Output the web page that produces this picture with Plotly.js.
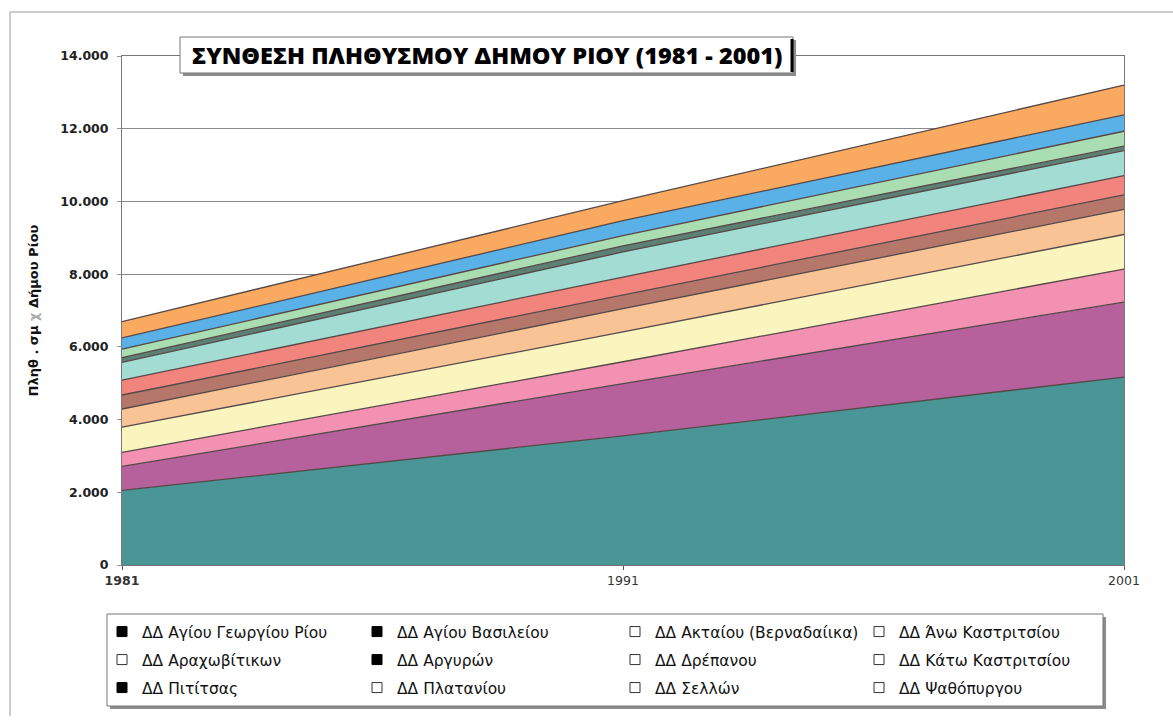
<!DOCTYPE html>
<html><head><meta charset="utf-8">
<script src="https://cdn.plot.ly/plotly-3.0.1.min.js"></script>
<style>html,body{margin:0;padding:0;background:#fff}#chart{width:1173px;height:723px}</style>
</head><body><div id="chart"></div>
<script>
// ---- data ----
const years = [1981, 1991, 2001];
const seriesNames = [
  "ΔΔ Αγίου Γεωργίου Ρίου", "ΔΔ Αγίου Βασιλείου", "ΔΔ Ακταίου (Βερναδαίικα)", "ΔΔ Άνω Καστριτσίου",
  "ΔΔ Αραχωβίτικων", "ΔΔ Αργυρών", "ΔΔ Δρέπανου", "ΔΔ Κάτω Καστριτσίου",
  "ΔΔ Πιτίτσας", "ΔΔ Πλατανίου", "ΔΔ Σελλών", "ΔΔ Ψαθόπυργου"
];
const agiouGeorgiouRiou   = [2050, 3550, 5170];
const agiouVasileiou      = [660, 1440, 2060];
const aktaiou             = [390, 600, 910];
const anoKastritsiou      = [690, 820, 950];
const arachovitikon       = [500, 640, 690];
const argyron             = [385, 370, 400];
const drepanou            = [410, 500, 530];
const katoKastritsiou     = [490, 690, 690];
const pititsas            = [130, 170, 120];
const plataniou           = [230, 280, 410];
const sellon              = [310, 410, 450];
const psathopyrgou        = [450, 550, 820];
const seriesValues = [agiouGeorgiouRiou, agiouVasileiou, aktaiou, anoKastritsiou, arachovitikon, argyron,
  drepanou, katoKastritsiou, pititsas, plataniou, sellon, psathopyrgou];
const yTicks = [0, 2000, 4000, 6000, 8000, 10000, 12000, 14000];
const titleText = "ΣΥΝΘΕΣΗ ΠΛΗΘΥΣΜΟΥ ΔΗΜΟΥ ΡΙΟΥ (1981 - 2001)";
const yTitleText = "Πληθ . σμ <span style='color:#aaa'>χ</span> Δήμου Ρίου";

// ---- style ----
const fillColors = ["#4A9595", "#B6619C", "#F291B1", "#FAF5BE", "#F8C496", "#B57769",
  "#F2847E", "#A2DCD3", "#5E7F73", "#ABDDB2", "#5AB1E8", "#FAAA60"];
const W = 1173, H = 723, L = 122, R = 49, T = 56, B = 158;
const PW = W - L - R, PH = H - T - B;
const px = x => (x - L) / PW;
const py = y => (H - B - y) / PH;
function lum(hex){const n=parseInt(hex.slice(1),16);return 0.299*(n>>16)+0.587*((n>>8)&255)+0.114*(n&255);}

const colTextX = [143, 398, 656, 900];
const rowY = [632, 660, 688];
const legFont = {family: "DejaVu Sans", size: 15.5, color: "#111"};

const traces = [];
seriesValues.forEach((vals, i) => {
  traces.push({
    type: "scatter", x: years, y: vals, name: seriesNames[i],
    stackgroup: "one", mode: "lines",
    line: {color: "#554848", width: 1.3},
    fillcolor: fillColors[i], showlegend: false, hoverinfo: "x+y+name"
  });
});
const legends = {};
seriesNames.forEach((nm, i) => {
  const dark = lum(fillColors[i]) < 150;
  const id = i === 0 ? "legend" : "legend" + (i + 1);
  traces.push({
    type: "scatter", x: [null], y: [null], name: nm, mode: "markers",
    marker: {symbol: dark ? "square" : "square-open", color: dark ? "#000" : "#333", size: 10,
             line: {width: 1, color: dark ? "#000" : "#333"}},
    legend: id, showlegend: true
  });
  legends[id] = {orientation: "h", x: px(colTextX[i % 4] - 41), xanchor: "left",
    y: py(rowY[Math.floor(i / 4)]), yanchor: "middle",
    bgcolor: "rgba(0,0,0,0)", borderwidth: 0, font: legFont};
});

const rect = (x0,y0,x1,y1,extra) => Object.assign({type:"rect", xref:"paper", yref:"paper",
  x0:px(x0), x1:px(x1), y0:py(y1), y1:py(y0), layer:"above"}, extra);
const line = (x0,y0,x1,y1,extra) => Object.assign({type:"line", xref:"paper", yref:"paper",
  x0:px(x0), x1:px(x1), y0:py(y0), y1:py(y1), layer:"above"}, extra);

const layout = Object.assign({
  width: W, height: H, margin: {l: L, r: R, t: T, b: B},
  paper_bgcolor: "#fff", plot_bgcolor: "#fff",
  separators: ",.",
  showlegend: true,
  xaxis: {
    type: "linear", range: [1981, 2001], tickvals: years,
    ticktext: ["<b>1981</b>", "1991", "2001"],
    tickfont: {family: "DejaVu Sans", size: 12.5, color: "#333"},
    showgrid: false, zeroline: false, showline: true, mirror: true, linecolor: "#777", linewidth: 1,
    ticks: "outside", ticklen: 4, tickcolor: "#555"
  },
  yaxis: {
    range: [0, 14000], tickvals: yTicks, tickformat: ",d",
    tickfont: {family: "DejaVu Sans", size: 12.5, color: "#222", weight: 700},
    showgrid: true, gridcolor: "#8a8a8a", gridwidth: 1, zeroline: false,
    showline: true, mirror: true, linecolor: "#777", linewidth: 1,
    ticks: "outside", ticklen: 4, tickcolor: "#999", ticklabelstandoff: 6,
    title: {text: "<b>" + yTitleText + "</b>", font: {family: "DejaVu Sans", size: 13, color: "#111"}, standoff: 18}
  },
  shapes: [
    line(10, 12, 10, 716, {line: {color: "#9a9a9a", width: 1}}),
    line(10, 12, 1180, 12, {line: {color: "#9a9a9a", width: 1}}),
    rect(183, 40, 796, 76, {fillcolor: "#8c8c8c", line: {width: 0}}),
    rect(180, 37, 793, 73, {fillcolor: "#ffffff", line: {color: "#777", width: 1}}),
    line(792, 39, 792, 72, {line: {color: "#000", width: 3}}),
    rect(110, 617, 1106, 709, {fillcolor: "#8c8c8c", line: {width: 0}}),
    rect(107, 614, 1103, 706, {fillcolor: "#ffffff", line: {color: "#777", width: 1}})
  ],
  annotations: [{
    xref: "paper", yref: "paper", x: px(487), y: py(55), xanchor: "center", yanchor: "middle",
    showarrow: false, text: titleText,
    font: {family: "Open Sans", size: 23.5, color: "#000", weight: 800}
  }]
}, legends);

Plotly.newPlot("chart", traces, layout, {displayModeBar: false, staticPlot: true});
</script></body></html>
